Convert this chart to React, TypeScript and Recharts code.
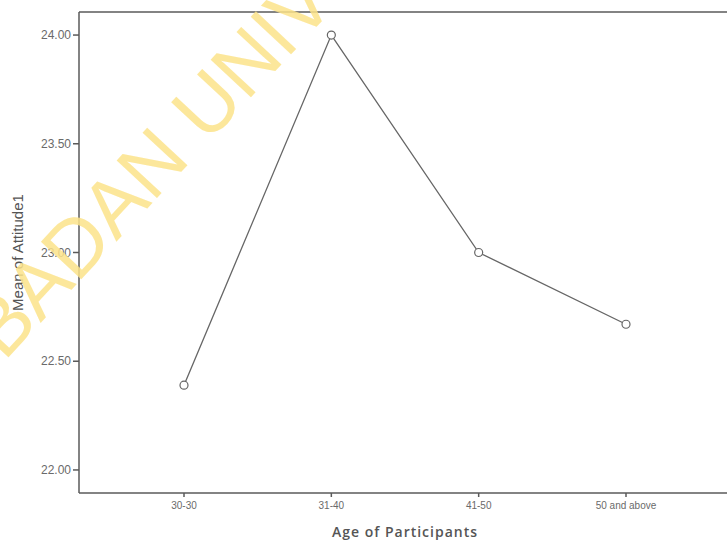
import React from 'react';
import { LineChart, Line, XAxis, YAxis } from 'recharts';

const ageGroups = ['30-30', '31-40', '41-50', '50 and above'];
const attitudeMeans = [22.39, 24.0, 23.0, 22.67];
const yTicks = [22.0, 22.5, 23.0, 23.5, 24.0];

const data = ageGroups.map((age, i) => ({ age, mean: attitudeMeans[i] }));

const axisColor = '#5a5a5a';
const textColor = '#6a6a6a';

const Dot = (props: any) => {
  const { cx, cy } = props;
  return <circle cx={cx} cy={cy} r={4} fill="#fff" stroke="#666" strokeWidth={1.2} />;
};

export default function App() {
  return (
    <div
      style={{
        position: 'absolute',
        left: 0,
        top: 0,
        width: 727,
        height: 541,
        overflow: 'hidden',
        background: '#fff',
      }}
    >
      <LineChart width={740} height={541} data={data} margin={{ top: 11, right: 9, left: 0, bottom: 0 }}>
        <XAxis
          xAxisId="top"
          orientation="top"
          dataKey="age"
          height={1}
          tick={false}
          tickLine={false}
          stroke={axisColor}
          strokeWidth={1.5}
          padding={{ left: 105, right: 105 }}
        />
        <XAxis
          dataKey="age"
          height={48}
          stroke={axisColor}
          strokeWidth={1.5}
          tickSize={4}
          tickMargin={5}
          padding={{ left: 105, right: 105 }}
          tick={{ fill: textColor, fontSize: 10, fontFamily: 'Liberation Sans, Arial, sans-serif' }}
          label={{
            value: 'Age of Participants',
            position: 'insideBottom',
            offset: 4,
            fill: '#555',
            fontSize: 14,
            fontWeight: 600,
            fontFamily: 'Open Sans, sans-serif',
            letterSpacing: 1,
          }}
        />
        <YAxis
          width={79}
          domain={[21.894, 24.106]}
          ticks={yTicks}
          allowDataOverflow
          stroke={axisColor}
          strokeWidth={1.5}
          tickSize={6}
          tickMargin={2}
          tickFormatter={(v: number) => v.toFixed(2)}
          tick={{ fill: textColor, fontSize: 12, fontFamily: 'Liberation Sans, Arial, sans-serif' }}
          label={{
            value: 'Mean of Attitude1',
            angle: -90,
            position: 'center',
            dx: -22,
            fill: '#555',
            fontSize: 15,
            fontFamily: 'Liberation Sans, Arial, sans-serif',
          }}
        />
        <Line
          type="linear"
          dataKey="mean"
          stroke="#666"
          strokeWidth={1.3}
          dot={<Dot />}
          activeDot={false}
          isAnimationActive={false}
        />
      </LineChart>
      <svg
        width={727}
        height={541}
        style={{ position: 'absolute', left: 0, top: 0, pointerEvents: 'none' }}
      >
        <text
          x={4}
          y={362}
          transform="rotate(-47 4 362)"
          fill="#fce38a"
          fillOpacity={0.85}
          fontSize={80}
          fontFamily="Liberation Sans, Arial, sans-serif"
        >
          BADAN UNIVERSITY
        </text>
      </svg>
    </div>
  );
}
